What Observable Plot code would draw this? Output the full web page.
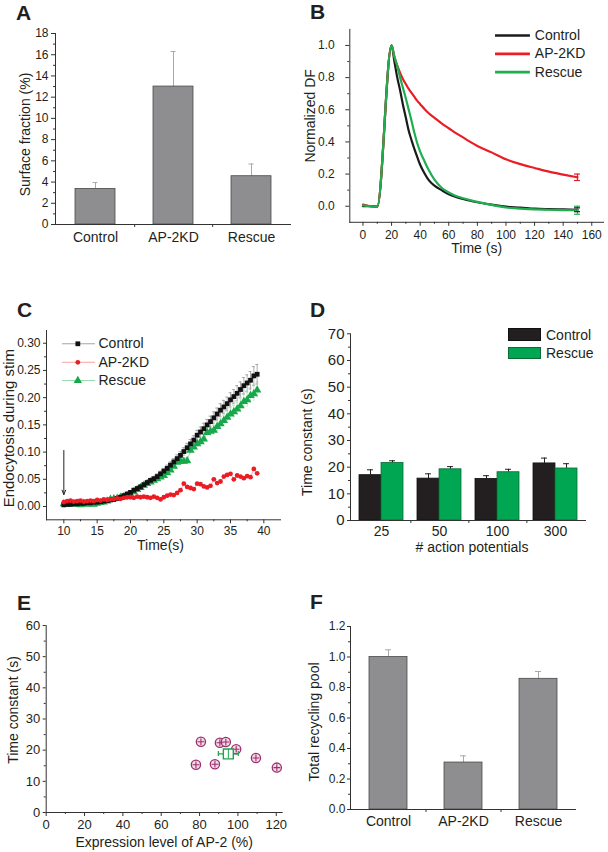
<!DOCTYPE html>
<html>
<head>
<meta charset="utf-8">
<script src="https://cdn.jsdelivr.net/npm/d3@7"></script>
<script src="https://cdn.jsdelivr.net/npm/@observablehq/plot@0.6"></script>
<style>
html,body{margin:0;padding:0;background:#fff;}
#fig{position:relative;width:608px;height:852px;overflow:hidden;font-family:"Liberation Sans",Arial,Helvetica,sans-serif;color:#231f20;}
#fig svg{position:absolute;}
.letter{position:absolute;font-weight:bold;font-size:21px;line-height:21px;}
.legtxt{position:absolute;font-size:14px;line-height:16px;white-space:nowrap;}
.legbox{position:absolute;box-sizing:border-box;}
</style>
</head>
<body>
<div id="fig"></div>
<script>
// ================= DATA =================
// Panel A
const groupsA = ["Control", "AP-2KD", "Rescue"];
const surfaceFraction = [3.35, 13.0, 4.55];
const surfaceFractionErr = [0.6, 3.3, 1.15];
const ticksA = [0, 2, 4, 6, 8, 10, 12, 14, 16, 18];
const minorTicksA = [1, 3, 5, 7, 9, 11, 13, 15, 17];

// Panel B
const seriesB = ["Control", "AP-2KD", "Rescue"];
const timeB = [0, 5, 10, 20, 22, 24, 26, 28, 30, 32, 34, 36, 38, 40, 43, 46, 50, 55, 60, 65, 70, 75, 80, 90, 100, 110, 120, 130, 140, 150];
const controlB = [0.0, 0.0, -0.003, 1.0, 0.90, 0.80, 0.72, 0.63, 0.55, 0.47, 0.41, 0.355, 0.305, 0.258, 0.205, 0.162, 0.128, 0.10, 0.075, 0.058, 0.045, 0.034, 0.025, 0.01, -0.003, -0.008, -0.015, -0.018, -0.02, -0.022];
const ap2kdB = [0.01, 0.0, -0.003, 1.0, 0.93, 0.875, 0.83, 0.79, 0.76, 0.73, 0.705, 0.68, 0.655, 0.635, 0.605, 0.578, 0.55, 0.515, 0.485, 0.455, 0.428, 0.40, 0.375, 0.335, 0.292, 0.262, 0.238, 0.215, 0.197, 0.18];
const rescueB = [0.005, 0.0, -0.003, 1.0, 0.93, 0.87, 0.80, 0.735, 0.67, 0.60, 0.53, 0.455, 0.39, 0.34, 0.28, 0.225, 0.165, 0.115, 0.085, 0.064, 0.05, 0.038, 0.027, 0.008, -0.008, -0.015, -0.02, -0.022, -0.024, -0.025];
const endErrB = [0.012, 0.02, 0.025];
const colorsB = ["#1a1a1a", "#ec1c24", "#1fae4f"];
const ticksBx = [0, 20, 40, 60, 80, 100, 120, 140, 160];
const minorTicksBx = [10, 30, 50, 70, 90, 110, 130, 150];
const ticksBy = [0, 0.2, 0.4, 0.6, 0.8, 1.0];
const minorTicksBy = [0.1, 0.3, 0.5, 0.7, 0.9];

// Panel C
const seriesC = ["Control", "AP-2KD", "Rescue"];
const timeC = [10,10.5,11,11.5,12,12.5,13,13.5,14,14.5,15,15.5,16,16.5,17,17.5,18,18.5,19,19.5,20,20.5,21,21.5,22,22.5,23,23.5,24,24.5,25,25.5,26,26.5,27,27.5,28,28.5,29,29.5,30,30.5,31,31.5,32,32.5,33,33.5,34,34.5,35,35.5,36,36.5,37,37.5,38,38.5,39];
const controlC = [0.003,0.004,0.004,0.005,0.005,0.006,0.006,0.007,0.007,0.008,
  0.008,0.009,0.010,0.011,0.012,0.013,0.015,0.017,0.020,0.023,
  0.026,0.030,0.033,0.036,0.040,0.044,0.048,0.051,0.055,0.060,
  0.065,0.070,0.076,0.082,0.088,0.094,0.101,0.108,0.115,0.122,
  0.131,0.137,0.143,0.150,0.156,0.163,0.170,0.177,0.183,0.189,
  0.196,0.202,0.208,0.215,0.222,0.227,0.232,0.240,0.243];
const controlErrC = [0.002,0.002,0.002,0.002,0.002,0.002,0.002,0.002,0.002,0.002,
  0.002,0.002,0.002,0.002,0.002,0.002,0.002,0.002,0.002,0.002,
  0.003,0.003,0.003,0.003,0.004,0.004,0.004,0.004,0.005,0.005,
  0.005,0.006,0.006,0.006,0.007,0.007,0.007,0.008,0.008,0.008,
  0.009,0.009,0.010,0.010,0.010,0.011,0.011,0.012,0.012,0.012,
  0.013,0.013,0.014,0.014,0.015,0.015,0.016,0.017,0.018];
const ap2kdC = [0.008,0.010,0.011,0.009,0.010,0.011,0.009,0.010,0.011,0.010,
  0.012,0.011,0.013,0.012,0.013,0.014,0.015,0.014,0.016,0.017,
  0.017,0.016,0.018,0.017,0.018,0.017,0.016,0.018,0.016,0.013,
  0.017,0.020,0.022,0.021,0.025,0.030,0.042,0.036,0.034,0.032,
  0.042,0.041,0.037,0.035,0.038,0.050,0.043,0.046,0.055,0.058,
  0.060,0.050,0.057,0.055,0.052,0.056,0.054,0.069,0.061];
const rescueC = [0.005,0.004,0.006,0.004,0.005,0.003,0.006,0.004,0.005,0.004,
  0.006,0.007,0.008,0.010,0.013,0.014,0.015,0.017,0.018,0.020,
  0.022,0.027,0.031,0.035,0.039,0.042,0.045,0.048,0.051,0.054,
  0.057,0.062,0.067,0.074,0.081,0.083,0.083,0.084,0.103,0.109,
  0.115,0.119,0.124,0.136,0.138,0.140,0.147,0.152,0.158,0.164,
  0.170,0.174,0.179,0.185,0.193,0.196,0.204,0.207,0.214];
const rescueErrC = [0.002,0.002,0.002,0.002,0.002,0.002,0.002,0.002,0.002,0.002,
  0.002,0.002,0.002,0.002,0.002,0.002,0.002,0.002,0.002,0.002,
  0.003,0.003,0.003,0.003,0.003,0.003,0.003,0.003,0.003,0.003,
  0.004,0.004,0.005,0.005,0.005,0.006,0.006,0.006,0.007,0.007,
  0.007,0.008,0.008,0.008,0.009,0.009,0.010,0.010,0.010,0.011,
  0.011,0.012,0.012,0.013,0.013,0.014,0.014,0.015,0.015];
const stimArrowC = [{t: 10, from: 0.103, to: 0.022}];
const ticksCx = [10, 15, 20, 25, 30, 35, 40];
const minorTicksCx = [12.5, 17.5, 22.5, 27.5, 32.5, 37.5];
const ticksCy = [0, 0.05, 0.10, 0.15, 0.20, 0.25, 0.30];
const minorTicksCy = [0.025, 0.075, 0.125, 0.175, 0.225, 0.275];

// Panel D
const groupsD = ["25", "50", "100", "300"];
const seriesD = ["Control", "Rescue"];
const controlD = [17.0, 15.7, 15.6, 21.4];
const controlErrD = [2.0, 1.8, 1.2, 2.0];
const rescueD = [21.6, 19.2, 18.1, 19.5];
const rescueErrD = [0.8, 1.0, 1.1, 1.8];
const colorsD = ["#231f20", "#00a651"];
const ticksD = [0, 10, 20, 30, 40, 50, 60, 70];
const minorTicksD = [5, 15, 25, 35, 45, 55, 65];

// Panel E
const expressionE = [78.1, 80.7, 88.0, 90.6, 93.7, 99.1, 109.4, 120.3];
const tauE = [15.3, 22.7, 15.5, 22.4, 22.6, 20.3, 17.5, 14.4];
const meanE = [{x: 95.0, y: 18.8, xErr: 5.2, yErr: 1.5}];
const ticksEx = [0, 20, 40, 60, 80, 100, 120];
const minorTicksEx = [10, 30, 50, 70, 90, 110];
const ticksEy = [0, 10, 20, 30, 40, 50, 60];
const minorTicksEy = [5, 15, 25, 35, 45, 55];

// Panel F
const groupsF = ["Control", "AP-2KD", "Rescue"];
const totalPool = [1.0, 0.308, 0.857];
const totalPoolErr = [0.047, 0.044, 0.048];
const ticksF = [0, 0.2, 0.4, 0.6, 0.8, 1.0, 1.2];
const minorTicksF = [0.1, 0.3, 0.5, 0.7, 0.9, 1.1];

const panelLetters = ["A", "B", "C", "D", "E", "F"];

// ================= LAYOUT / STYLE =================
const fig = document.getElementById("fig");
const AX = "#333333";
const baseStyle = {fontFamily: "'Liberation Sans', Arial, Helvetica, sans-serif", color: "#231f20", background: "transparent", overflow: "visible"};
function place(el, left, top) {
  el.style.position = "absolute";
  el.style.left = left + "px";
  el.style.top = top + "px";
  fig.appendChild(el);
}
const noText = () => "";
function yAxes(major, minor, fmt, fontSize, tickSize, tickPadding) {
  return [
    Plot.axisY({ticks: major, tickFormat: fmt, tickSize, tickPadding, fontSize, label: null, stroke: AX}),
    Plot.axisY({ticks: minor, tickFormat: noText, tickSize: 2, label: null, stroke: AX}),
    Plot.frame({anchor: "left", stroke: AX})
  ];
}
function xAxesLinear(major, minor, fmt, fontSize, tickSize, tickPadding) {
  return [
    Plot.axisX({ticks: major, tickFormat: fmt, tickSize, tickPadding, fontSize, label: null, stroke: AX}),
    Plot.axisX({ticks: minor, tickFormat: noText, tickSize: 2, label: null, stroke: AX}),
    Plot.frame({anchor: "bottom", stroke: AX})
  ];
}
function yTitle(text, dx, dy, fontSize = 14) {
  return Plot.text([text], {text: d => d, frameAnchor: "left", textAnchor: "middle", lineAnchor: "middle", rotate: -90, dx, dy, fontSize});
}
function xTitle(text, dx, dy, fontSize = 14) {
  return Plot.text([text], {text: d => d, frameAnchor: "bottom", textAnchor: "middle", lineAnchor: "middle", dx, dy, fontSize});
}

// ================= PANEL A =================
{
  const rows = groupsA.map((g, i) => ({g, v: surfaceFraction[i], e: surfaceFractionErr[i]}));
  const step = 235 / 3;
  const svg = Plot.plot({
    width: 300, height: 270, marginLeft: 55, marginRight: 10, marginTop: 33, marginBottom: 46,
    style: baseStyle,
    x: {domain: groupsA, paddingInner: 0.49, paddingOuter: 0.245},
    y: {domain: [0, 18]},
    marks: [
      Plot.ruleX(rows, {x: "g", y1: "v", y2: d => d.v + d.e, stroke: "#a9a9a9"}),
      Plot.tickY(rows, {x: "g", y: d => d.v + d.e, stroke: "#a9a9a9", insetLeft: 17.5, insetRight: 17.5}),
      Plot.barY(rows, {x: "g", y: "v", fill: "#8e8e90", stroke: "#4a4a4a", strokeWidth: 0.8}),
      Plot.ruleX(groupsA.slice(0, -1), {x: d => d, dx: step / 2, y1: 0, y2: 0, insetBottom: -3, stroke: AX}),
      ...yAxes(ticksA, minorTicksA, d3.format("d"), 12, 4, 3),
      Plot.axisX({tickSize: 0, tickPadding: 8, fontSize: 14, label: null}),
      Plot.frame({anchor: "bottom", stroke: AX}),
      yTitle("Surface fraction (%)", -30, 5.5)
    ]
  });
  place(svg, 0, 0);
}

// ================= PANEL B =================
{
  const rows = timeB.map((t, i) => ({t, c: controlB[i], k: ap2kdB[i], r: rescueB[i]}));
  const ends = [
    {t: timeB[timeB.length - 1], v: controlB[controlB.length - 1], e: endErrB[0], col: colorsB[0]},
    {t: timeB[timeB.length - 1], v: ap2kdB[ap2kdB.length - 1], e: endErrB[1], col: colorsB[1]},
    {t: timeB[timeB.length - 1], v: rescueB[rescueB.length - 1], e: endErrB[2], col: colorsB[2]}
  ];
  const legRows = seriesB.map((s, i) => ({s, col: colorsB[i], y: [1.062, 0.948, 0.834][i]}));
  const svg = Plot.plot({
    width: 308, height: 270, marginLeft: 49.3, marginRight: 5, marginTop: 28.9, marginBottom: 48.2,
    style: baseStyle,
    x: {domain: [-9.2, 168.2]},
    y: {domain: [-0.1, 1.1]},
    marks: [
      Plot.line(rows, {x: "t", y: "c", stroke: colorsB[0], strokeWidth: 2.2, curve: "monotone-x"}),
      Plot.line(rows, {x: "t", y: "k", stroke: colorsB[1], strokeWidth: 2.2, curve: "monotone-x"}),
      Plot.line(rows, {x: "t", y: "r", stroke: colorsB[2], strokeWidth: 2.2, curve: "monotone-x"}),
      Plot.ruleX(ends, {x: "t", y1: d => d.v - d.e, y2: d => d.v + d.e, stroke: "col", strokeWidth: 1.2}),
      Plot.ruleY(ends, {y: d => d.v + d.e, x1: "t", x2: "t", insetLeft: -3, insetRight: -3, stroke: "col", strokeWidth: 1.2}),
      Plot.ruleY(ends, {y: d => d.v - d.e, x1: "t", x2: "t", insetLeft: -3, insetRight: -3, stroke: "col", strokeWidth: 1.2}),
      Plot.ruleY(legRows, {y: "y", x1: 92.7, x2: 117.1, stroke: "col", strokeWidth: 2.6}),
      Plot.text(legRows, {y: "y", x: 120.2, text: "s", textAnchor: "start", fontSize: 14}),
      ...yAxes(ticksBy, minorTicksBy, d3.format(".1f"), 12, 4, 11),
      ...xAxesLinear(ticksBx, minorTicksBx, d3.format("d"), 12, 4, 4),
      yTitle("Normalized DF", -39.3, -10),
      xTitle("Time (s)", 0, 26.5)
    ]
  });
  place(svg, 300, 0);
}

// ================= PANEL C =================
{
  const rows = timeC.map((t, i) => ({t, c: controlC[i], ce: controlErrC[i], k: ap2kdC[i], r: rescueC[i], re: rescueErrC[i]}));
  const legY = [0.299, 0.265, 0.2315];
  const svg = Plot.plot({
    width: 300, height: 280, marginLeft: 46, marginRight: 20, marginTop: 50, marginBottom: 40.7,
    style: baseStyle,
    x: {domain: [7.4, 42.5]},
    y: {domain: [-0.0244, 0.3234]},
    marks: [
      Plot.line(rows, {x: "t", y: "r", stroke: "#8fd6a4", strokeWidth: 0.8}),
      Plot.line(rows, {x: "t", y: "c", stroke: "#9a9a9a", strokeWidth: 0.8}),
      Plot.line(rows, {x: "t", y: "k", stroke: "#f59a9a", strokeWidth: 0.8}),
      Plot.ruleX(rows, {x: "t", y1: d => d.r - d.re, y2: d => d.r + d.re, stroke: "#a8e0b8", strokeWidth: 0.7}),
      Plot.ruleY(rows, {y: d => d.r + d.re, x1: "t", x2: "t", insetLeft: -1.5, insetRight: -1.5, stroke: "#a8e0b8", strokeWidth: 0.7}),
      Plot.ruleX(rows, {x: "t", y1: d => d.c - d.ce, y2: d => d.c + d.ce, stroke: "#8c8c8c", strokeWidth: 0.7}),
      Plot.ruleY(rows, {y: d => d.c + d.ce, x1: "t", x2: "t", insetLeft: -1.5, insetRight: -1.5, stroke: "#8c8c8c", strokeWidth: 0.7}),
      Plot.ruleY(rows, {y: d => d.c - d.ce, x1: "t", x2: "t", insetLeft: -1.5, insetRight: -1.5, stroke: "#8c8c8c", strokeWidth: 0.7}),
      Plot.dot(rows, {x: "t", y: "r", symbol: "triangle", r: 3.1, fill: "#17a84b"}),
      Plot.dot(rows, {x: "t", y: "c", symbol: "square", r: 2.7, fill: "#111"}),
      Plot.dot(rows, {x: "t", y: "k", symbol: "circle", r: 2.4, fill: "#ec1c24"}),
      Plot.arrow(stimArrowC, {x1: "t", x2: "t", y1: "from", y2: "to", stroke: "#222", strokeWidth: 1, headLength: 7, headAngle: 45}),
      Plot.ruleY([legY[0]], {y: d => d, x1: 9.8, x2: 14.75, stroke: "#9a9a9a", strokeWidth: 0.9}),
      Plot.ruleY([legY[1]], {y: d => d, x1: 9.8, x2: 14.75, stroke: "#f59a9a", strokeWidth: 0.9}),
      Plot.ruleY([legY[2]], {y: d => d, x1: 9.8, x2: 14.75, stroke: "#8fd6a4", strokeWidth: 0.9}),
      Plot.dot([legY[0]], {x: 12.1, y: d => d, symbol: "square", r: 2.7, fill: "#111"}),
      Plot.dot([legY[1]], {x: 12.1, y: d => d, symbol: "circle", r: 2.4, fill: "#ec1c24"}),
      Plot.dot([legY[2]], {x: 12.1, y: d => d, symbol: "triangle", r: 3.1, fill: "#17a84b"}),
      Plot.text(seriesC, {x: 15.2, y: (d, i) => legY[i], text: d => d, textAnchor: "start", fontSize: 14}),
      ...yAxes(ticksCy, minorTicksCy, d3.format(".2f"), 12, 3, 3),
      ...xAxesLinear(ticksCx, minorTicksCx, d3.format("d"), 12, 4, 3),
      yTitle("Endocytosis during stim", -37.5, 3, 15),
      xTitle("Time(s)", -3, 25.7)
    ]
  });
  place(svg, 0, 280);
}

// ================= PANEL D =================
{
  const ctrl = groupsD.map((g, i) => ({g, v: controlD[i], e: controlErrD[i]}));
  const resc = groupsD.map((g, i) => ({g, v: rescueD[i], e: rescueErrD[i]}));
  const step = 235 / 4;
  const bw = step * 0.75;
  const half = bw / 2;
  const svg = Plot.plot({
    width: 308, height: 280, marginLeft: 50, marginRight: 23, marginTop: 53.3, marginBottom: 40,
    style: baseStyle,
    x: {domain: groupsD, paddingInner: 0.25, paddingOuter: 0.125},
    y: {domain: [0, 70]},
    marks: [
      Plot.ruleX(ctrl, {x: "g", dx: -half / 2, y1: "v", y2: d => d.v + d.e, stroke: "#231f20"}),
      Plot.tickY(ctrl, {x: "g", y: d => d.v + d.e, insetLeft: half / 2 - 3, insetRight: half + half / 2 - 3, stroke: "#231f20"}),
      Plot.ruleX(resc, {x: "g", dx: half / 2, y1: "v", y2: d => d.v + d.e, stroke: "#231f20"}),
      Plot.tickY(resc, {x: "g", y: d => d.v + d.e, insetLeft: half + half / 2 - 3, insetRight: half / 2 - 3, stroke: "#231f20"}),
      Plot.barY(ctrl, {x: "g", y: "v", insetRight: half, fill: colorsD[0], stroke: "#111", strokeWidth: 0.8}),
      Plot.barY(resc, {x: "g", y: "v", insetLeft: half, fill: colorsD[1], stroke: "#0b6b35", strokeWidth: 0.8}),
      Plot.ruleX(groupsD.slice(0, -1), {x: d => d, dx: step / 2, y1: 0, y2: 0, insetBottom: -3, stroke: AX}),
      ...yAxes(ticksD, minorTicksD, d3.format("d"), 15, 3, 3),
      Plot.axisX({tickSize: 0, tickPadding: 6, fontSize: 14, label: null}),
      Plot.frame({anchor: "bottom", stroke: AX}),
      yTitle("Time constant (s)", -42.5, 15),
      xTitle("# action potentials", 4, 27)
    ]
  });
  place(svg, 300, 280);
  const legTop = [328, 347];
  const legH = [13, 12];
  seriesD.forEach((s, i) => {
    const box = document.createElement("div");
    box.className = "legbox";
    box.style.width = "33px";
    box.style.height = legH[i] + "px";
    box.style.background = colorsD[i];
    box.style.border = "1px solid " + (i === 0 ? "#111" : "#0b6b35");
    place(box, 508, legTop[i]);
    const t = document.createElement("div");
    t.className = "legtxt";
    t.textContent = s;
    place(t, 546, legTop[i] + legH[i] / 2 - 8);
  });
}

// ================= PANEL E =================
{
  const pts = expressionE.map((x, i) => ({x, y: tauE[i]}));
  const svg = Plot.plot({
    width: 300, height: 292, marginLeft: 45.7, marginRight: 18.3, marginTop: 65, marginBottom: 40,
    style: baseStyle,
    x: {domain: [0, 123.1]},
    y: {domain: [0, 60]},
    marks: [
      Plot.dot(pts, {x: "x", y: "y", r: 4.6, stroke: "#9c2f6b", fill: "#f2dbe7", strokeWidth: 1.3}),
      Plot.dot(pts, {x: "x", y: "y", symbol: "plus", r: 2.3, stroke: "#9c2f6b", strokeWidth: 1.1}),
      Plot.ruleY(meanE, {y: "y", x1: d => d.x - d.xErr, x2: d => d.x + d.xErr, stroke: "#1aa34a", strokeWidth: 1.2}),
      Plot.ruleX(meanE, {x: d => d.x - d.xErr, y1: "y", y2: "y", insetTop: -2.5, insetBottom: -2.5, stroke: "#1aa34a", strokeWidth: 1.2}),
      Plot.ruleX(meanE, {x: d => d.x + d.xErr, y1: "y", y2: "y", insetTop: -2.5, insetBottom: -2.5, stroke: "#1aa34a", strokeWidth: 1.2}),
      Plot.dot(meanE, {x: "x", y: "y", symbol: "square", r: 5.6, stroke: "#1aa34a", fill: "white", strokeWidth: 1.4}),
      Plot.ruleX(meanE, {x: "x", y1: d => d.y - d.yErr, y2: d => d.y + d.yErr, stroke: "#1aa34a", strokeWidth: 1}),
      ...yAxes(ticksEy, minorTicksEy, d3.format("d"), 13, 3, 3),
      ...xAxesLinear(ticksEx, minorTicksEx, d3.format("d"), 13, 4, 3),
      yTitle("Time constant (s)", -32.4, -9),
      xTitle("Expression level of AP-2 (%)", 0, 30)
    ]
  });
  place(svg, 0, 560);
}

// ================= PANEL F =================
{
  const rows = groupsF.map((g, i) => ({g, v: totalPool[i], e: totalPoolErr[i]}));
  const step = 225 / 3;
  const svg = Plot.plot({
    width: 308, height: 292, marginLeft: 50, marginRight: 33, marginTop: 66, marginBottom: 43,
    style: baseStyle,
    x: {domain: groupsF, paddingInner: 0.5, paddingOuter: 0.25},
    y: {domain: [0, 1.2]},
    marks: [
      Plot.ruleX(rows, {x: "g", y1: "v", y2: d => d.v + d.e, stroke: "#a9a9a9"}),
      Plot.tickY(rows, {x: "g", y: d => d.v + d.e, stroke: "#a9a9a9", insetLeft: 16, insetRight: 16}),
      Plot.barY(rows, {x: "g", y: "v", fill: "#8e8e90", stroke: "#4a4a4a", strokeWidth: 0.8}),
      Plot.ruleX(groupsF.slice(0, -1), {x: d => d, dx: step / 2, y1: 0, y2: 0, insetBottom: -3, stroke: AX}),
      ...yAxes(ticksF, minorTicksF, d3.format(".1f"), 12, 3, 2),
      Plot.axisX({tickSize: 0, tickPadding: 7, fontSize: 14, label: null}),
      Plot.frame({anchor: "bottom", stroke: AX}),
      yTitle("Total recycling pool", -36, 4)
    ]
  });
  place(svg, 300, 560);
}

// ================= PANEL LETTERS =================
const letterPos = [[16, 2.2], [310, 0.5], [17, 298.9], [310, 298.9], [17, 592.2], [310, 590.5]];
panelLetters.forEach((L, i) => {
  const d = document.createElement("div");
  d.className = "letter";
  d.textContent = L;
  place(d, letterPos[i][0], letterPos[i][1]);
});
</script>
</body>
</html>
